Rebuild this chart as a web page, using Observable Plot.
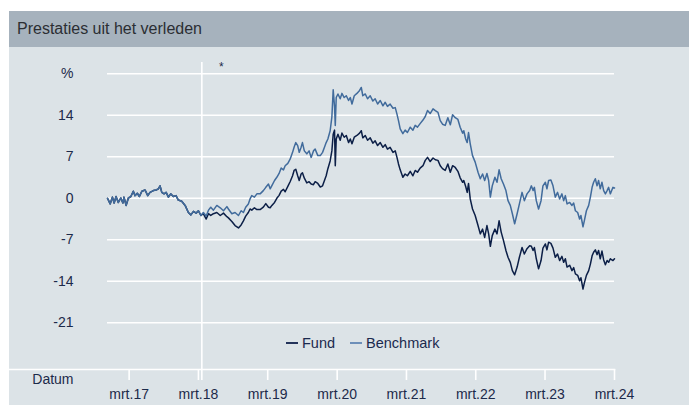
<!DOCTYPE html>
<html>
<head>
<meta charset="utf-8">
<script src="https://cdn.jsdelivr.net/npm/d3@7"></script>
<script src="https://cdn.jsdelivr.net/npm/@observablehq/plot@0.6"></script>
<style>
  html, body { margin: 0; padding: 0; background: #ffffff; }
  body { font-family: "Liberation Sans", Arial, sans-serif; width: 689px; height: 405px; overflow: hidden; position: relative; }
  #wrap { position: absolute; left: 9px; top: 11px; width: 680px; }
  #title { height: 36px; background: #a6b2bd; color: #2b2e33; font-size: 16px; line-height: 36px; padding-left: 8px; box-sizing: border-box; }
  #chart { position: relative; background: #dce3e7; height: 358px; }
  #chart svg { display: block; background: transparent; }
  #legend { position: absolute; left: 277px; top: 287px; height: 18px; display: flex; align-items: center; font-size: 14.5px; color: #1b2a4e; }
  #legend .item { display: flex; align-items: center; margin-right: 15px; }
  #legend .dash { display: inline-block; width: 12px; height: 2px; margin-right: 4px; }
</style>
</head>
<body>
<div id="wrap">
  <div id="title">Prestaties uit het verleden</div>
  <div id="chart"><div id="legend"></div></div>
</div>
<script>
// ---- Data ----
const dates = [
  "2016-11-07","2016-11-21","2016-12-03","2016-12-12","2016-12-22","2017-01-03","2017-01-16","2017-01-27","2017-02-02","2017-02-13",
  "2017-02-25","2017-03-10","2017-03-23","2017-04-01","2017-04-13","2017-04-24","2017-05-07","2017-05-24","2017-06-07","2017-06-19",
  "2017-07-07","2017-07-21","2017-08-02","2017-08-11","2017-08-20","2017-09-01","2017-09-12","2017-09-24","2017-10-06","2017-10-20",
  "2017-11-03","2017-11-15","2017-12-03","2017-12-21","2018-01-07","2018-01-20","2018-02-03","2018-02-17","2018-03-01","2018-03-14",
  "2018-03-27","2018-04-11","2018-04-23","2018-05-05","2018-05-19","2018-06-06","2018-06-24","2018-07-11","2018-07-29","2018-08-06",
  "2018-08-24","2018-09-10","2018-09-28","2018-10-12","2018-10-24","2018-11-05","2018-11-19","2018-11-28","2018-12-07","2018-12-21",
  "2019-01-03","2019-01-20","2019-02-06","2019-02-19","2019-03-05","2019-03-14","2019-03-23","2019-04-06","2019-04-18","2019-04-30",
  "2019-05-11","2019-05-23","2019-06-01","2019-06-15","2019-06-27","2019-07-10","2019-07-18","2019-07-27","2019-08-06","2019-08-14",
  "2019-08-24","2019-08-31","2019-09-10","2019-09-23","2019-10-05","2019-10-16","2019-10-28","2019-11-06","2019-11-20","2019-12-03",
  "2019-12-15","2019-12-25","2020-01-03","2020-01-12","2020-01-24","2020-02-02","2020-02-09","2020-02-16","2020-02-20","2020-02-25",
  "2020-03-05","2020-03-17","2020-03-26","2020-04-07","2020-04-18","2020-04-30","2020-05-09","2020-05-18","2020-05-30","2020-06-13",
  "2020-06-27","2020-07-06","2020-07-14","2020-07-27","2020-08-08","2020-08-22","2020-09-05","2020-09-17","2020-09-30","2020-10-14",
  "2020-10-28","2020-11-09","2020-11-21","2020-12-05","2020-12-20","2021-01-01","2021-01-10","2021-01-18","2021-01-27","2021-02-10",
  "2021-02-22","2021-03-06","2021-03-21","2021-04-04","2021-04-16","2021-04-28","2021-05-12","2021-05-27","2021-06-08","2021-06-20",
  "2021-07-04","2021-07-19","2021-07-31","2021-08-14","2021-08-26","2021-09-07","2021-09-21","2021-10-05","2021-10-18","2021-10-30",
  "2021-11-13","2021-11-27","2021-12-09","2021-12-22","2021-12-28","2022-01-07","2022-01-15","2022-01-22","2022-01-31","2022-02-12",
  "2022-02-26","2022-03-13","2022-03-25","2022-04-06","2022-04-17","2022-04-29","2022-05-08","2022-05-17","2022-05-27","2022-06-10",
  "2022-06-21","2022-07-02","2022-07-13","2022-07-25","2022-08-07","2022-08-18","2022-08-30","2022-09-10","2022-09-22","2022-10-05",
  "2022-10-17","2022-10-31","2022-11-12","2022-11-26","2022-12-10","2022-12-19","2022-12-28","2023-01-04","2023-01-14","2023-01-26",
  "2023-02-08","2023-02-18","2023-03-03","2023-03-11","2023-03-20","2023-04-01","2023-04-12","2023-04-24","2023-05-06","2023-05-17",
  "2023-05-29","2023-06-07","2023-06-16","2023-06-25","2023-07-09","2023-07-21","2023-07-30","2023-08-08","2023-08-20","2023-08-30",
  "2023-09-06","2023-09-17","2023-09-24","2023-10-05","2023-10-17","2023-10-26","2023-11-04","2023-11-12","2023-11-21","2023-11-30",
  "2023-12-08","2023-12-17","2023-12-26","2024-01-04","2024-01-13","2024-01-22","2024-01-30","2024-02-08","2024-02-22","2024-03-01"
];
const fund = [
  0.0,-0.95,0.2,-0.8,0.3,-0.7,0.05,-0.8,0.2,-1.2,
  0.05,0.3,1.2,0.45,0.85,0.3,1.2,1.4,0.45,1.0,
  1.3,1.4,1.6,2.1,1.0,0.75,1.0,0.2,0.75,0.3,
  0.45,-0.3,-0.5,-1.2,-2.4,-2.8,-2.2,-2.5,-2.1,-2.9,
  -2.6,-3.5,-2.6,-2.9,-2.6,-2.4,-2.9,-2.5,-3.1,-3.3,
  -3.9,-4.6,-5.0,-4.5,-3.8,-3.0,-2.4,-1.8,-2.0,-1.6,
  -1.9,-1.9,-1.5,-0.9,-1.5,-1.6,-1.2,-0.7,0.0,0.5,
  1.2,1.5,1.1,2.0,2.8,3.8,4.7,4.9,3.8,3.0,
  4.1,4.3,3.4,2.6,2.8,2.4,2.3,2.8,2.5,1.9,
  2.1,3.0,3.8,5.0,6.3,8.0,10.8,11.5,5.5,10.0,
  10.8,9.8,11.0,10.3,10.6,9.4,10.0,9.2,10.3,10.6,
  11.0,11.4,10.2,10.6,9.8,10.2,9.3,9.7,8.9,9.4,
  8.6,9.05,8.3,8.6,7.75,8.0,6.9,5.8,4.8,3.55,
  4.1,3.8,4.55,3.8,4.7,4.4,5.1,5.5,6.4,6.9,
  6.2,6.8,6.5,6.4,5.5,5.0,4.7,5.8,4.4,5.5,
  5.2,4.55,3.45,2.7,3.0,2.0,1.0,2.5,-0.1,-1.8,
  -2.9,-4.6,-6.0,-5.2,-6.6,-4.6,-6.0,-8.1,-6.3,-5.2,
  -6.0,-3.8,-5.7,-7.1,-8.8,-9.95,-10.8,-12.2,-12.9,-11.6,
  -9.95,-8.3,-9.4,-8.5,-8.0,-8.1,-8.8,-8.3,-10.2,-11.9,
  -10.5,-8.4,-7.7,-8.7,-7.4,-7.6,-8.4,-9.95,-9.4,-10.5,
  -9.8,-10.8,-10.2,-11.6,-11.3,-12.2,-11.7,-12.75,-13.0,-13.9,
  -13.4,-15.3,-14.3,-13.0,-12.2,-11.1,-9.7,-9.1,-8.7,-9.5,
  -8.8,-10.2,-8.9,-10.4,-11.2,-10.5,-10.8,-10.2,-10.5,-10.2
];
const benchmark = [
  0.0,-0.95,0.2,-0.8,0.3,-0.7,0.05,-0.8,0.2,-1.2,
  0.05,0.3,1.2,0.45,0.85,0.3,1.2,1.4,0.45,1.0,
  1.3,1.4,1.6,2.1,1.0,0.75,1.0,0.2,0.75,0.3,
  0.45,-0.3,-0.5,-1.2,-2.4,-2.8,-2.2,-2.5,-2.1,-2.9,
  -2.4,-3.0,-2.0,-1.5,-2.0,-1.2,-1.6,-2.1,-1.4,-1.8,
  -2.6,-2.4,-2.9,-2.1,-2.4,-1.5,-0.95,-0.1,0.45,0.2,
  0.75,0.75,1.3,1.85,2.4,1.6,2.15,3.0,3.55,4.2,
  5.1,4.8,5.5,5.9,6.6,7.75,8.6,9.4,8.9,7.75,
  8.6,9.4,8.0,7.5,8.0,6.9,8.0,8.3,7.2,7.2,
  7.75,8.6,9.4,10.0,11.4,13.7,18.3,15.5,12.3,17.0,
  17.6,16.8,17.7,17.0,17.3,16.5,17.0,15.9,17.3,17.7,
  18.2,18.7,17.3,17.6,16.8,17.3,16.4,16.8,15.9,16.5,
  15.6,16.2,15.5,15.9,15.2,15.3,14.2,13.1,11.7,10.9,
  11.5,11.1,12.0,11.5,12.3,12.0,12.6,13.2,13.8,14.8,
  14.3,15.1,14.8,14.5,13.1,12.5,12.3,13.6,12.4,14.1,
  13.6,13.3,12.0,11.0,11.4,10.0,9.4,11.1,9.2,7.2,
  6.1,4.4,3.3,4.1,3.0,4.2,3.0,0.2,2.1,3.55,
  2.7,4.8,3.3,2.4,1.3,-0.4,-1.2,-2.6,-4.3,-2.6,
  -0.95,1.0,-0.4,0.75,1.3,2.1,1.3,1.85,-0.4,-1.8,
  -0.4,2.1,2.7,1.6,3.0,3.1,2.1,0.2,1.0,-0.1,
  0.75,-0.4,0.45,-0.95,-0.7,-1.2,-0.8,-2.1,-2.4,-3.5,
  -2.9,-4.8,-3.8,-2.1,-1.2,0.2,1.85,2.7,3.3,2.1,
  3.0,1.6,2.7,1.3,0.75,1.3,1.85,0.75,1.85,1.75
];
const seriesNames = ["Fund", "Benchmark"];
const yTicks = [21, 14, 7, 0, -7, -14, -21];
const yTickLabels = ["%", "14", "7", "0", "-7", "-14", "-21"];
const xTickDates = ["2017-03-01","2018-03-01","2019-03-01","2020-03-01","2021-03-01","2022-03-01","2023-03-01","2024-03-01"];
const xTickLabels = ["mrt.17","mrt.18","mrt.19","mrt.20","mrt.21","mrt.22","mrt.23","mrt.24"];
const xAxisTitle = "Datum";
const markerDate = "2018-03-19";
const markerLabel = "*";

// ---- Styles ----
const fundColor = "#0c1f47";
const benchColor = "#416b9c";
const textColor = "#1c2a4a";
const W = 680, H = 358;

const parse = d3.utcParse("%Y-%m-%d");
const rows = dates.map((d, i) => ({date: parse(d), fund: fund[i], benchmark: benchmark[i]}));
const tickDates = xTickDates.map(parse);
const labelOf = new Map(tickDates.map((d, i) => [+d, xTickLabels[i]]));
const xStart = rows[0].date, xEnd = rows[rows.length - 1].date;
const mDate = parse(markerDate);

const yMin = -28.88, yMax = 25.44;
const pxPerUnit = 322 / (yMax - yMin);

const chart = Plot.plot({
  width: W,
  height: H,
  marginLeft: 0,
  marginRight: 75,
  marginTop: 0,
  marginBottom: 36,
  style: {background: "transparent", fontFamily: "'Liberation Sans', Arial, sans-serif", fontSize: "14px", color: textColor, overflow: "visible"},
  x: {type: "utc", domain: [xStart, xEnd], range: [98, 605], axis: null},
  y: {domain: [yMin, yMax], axis: null},
  marks: [
    Plot.ruleY(yTicks, {y: d => d, x1: () => xStart, x2: () => xEnd, stroke: "white", strokeWidth: 1.6}),
    Plot.frame({anchor: "bottom", stroke: "white", strokeWidth: 1.6}),
    Plot.ruleX([mDate], {x: d => d, y1: () => yMax - 15 / pxPerUnit, y2: () => yMin - 11 / pxPerUnit, stroke: "white", strokeWidth: 1.6}),
    Plot.text([markerLabel], {x: () => mDate, y: () => yMax - 20 / pxPerUnit, text: d => d, dx: 19.5, fontSize: 12, fill: textColor}),
    Plot.axisX({ticks: tickDates, tickSize: 11, tickPadding: 9, tickFormat: d => labelOf.get(+d), stroke: "white", strokeWidth: 1.6, fill: textColor, fontSize: 14, label: null}),
    Plot.text(yTicks, {y: d => d, text: (d, i) => yTickLabels[i], frameAnchor: "left", dx: 64, textAnchor: "end", fontSize: 14, fill: textColor}),
    Plot.text([xAxisTitle], {text: d => d, frameAnchor: "bottom-left", dx: 64, dy: 14, textAnchor: "end", fontSize: 14, fill: textColor}),
    Plot.line(rows, {x: "date", y: "fund", stroke: fundColor, strokeWidth: 1.5, curve: "linear"}),
    Plot.line(rows, {x: "date", y: "benchmark", stroke: benchColor, strokeWidth: 1.5, curve: "linear"})
  ]
});
const chartDiv = document.getElementById("chart");
chartDiv.insertBefore(chart, chartDiv.firstChild);

// legend
const legend = document.getElementById("legend");
const legendColors = ["#23335a", "#6d8fb9"];
seriesNames.forEach((name, i) => {
  const item = document.createElement("span");
  item.className = "item";
  const dash = document.createElement("span");
  dash.className = "dash";
  dash.style.background = legendColors[i];
  item.appendChild(dash);
  item.appendChild(document.createTextNode(name));
  legend.appendChild(item);
});
</script>
</body>
</html>
